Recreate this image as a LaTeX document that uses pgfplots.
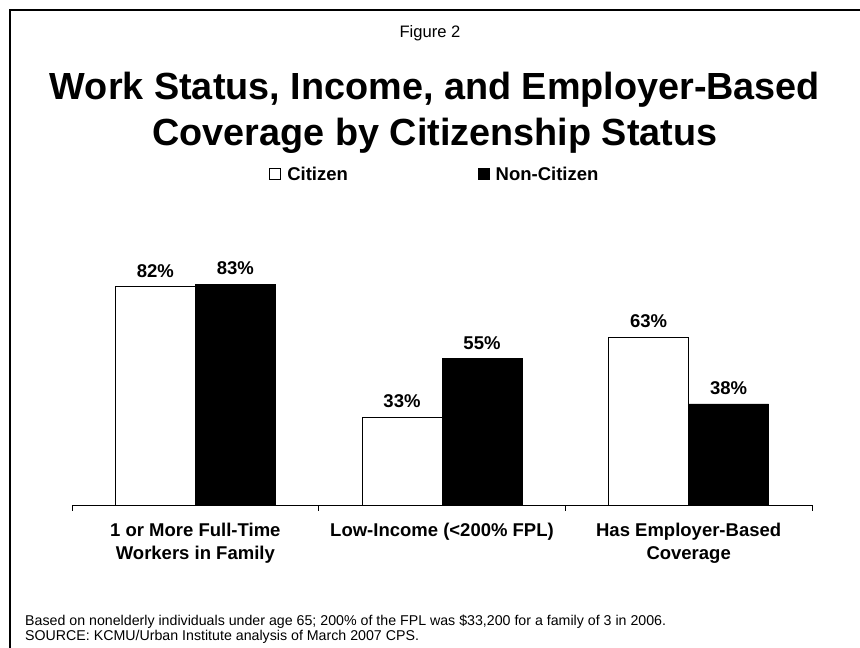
\documentclass[border=0pt]{standalone}
\usepackage{fontspec}
\setmainfont{Liberation Sans}
\usepackage{pgfplots}
\pgfplotsset{compat=1.18}
\begin{document}
\begin{tikzpicture}[x=1pt,y=1pt]
\path[use as bounding box] (0,0) rectangle (860,648);
\draw[line width=1.5pt] (10,0) -- (10,638) -- (860,638);
\node[font=\fontsize{16.6}{20}\selectfont] at (430,615) {Figure 2};
\node[font=\fontsize{37.8}{46}\selectfont\bfseries, align=center] at (435,535.5) {Work Status, Income, and Employer-Based\\Coverage by Citizenship Status};
\begin{axis}[
  at={(72pt,143pt)}, anchor=south west, scale only axis,
  width=740pt, height=266pt,
  xmin=-0.5, xmax=2.5, ymin=0, ymax=100,
  ybar=0pt, bar width=0.3243,
  axis x line=bottom, axis y line=none,
  axis line style={-, black, line width=0.8pt},
  xtick={0,1,2},
  xticklabels={{1 or More Full-Time\\Workers in Family},{Low-Income (<200\% FPL)},{Has Employer-Based\\Coverage}},
  xticklabel style={align=center, font=\fontsize{18.5}{23}\selectfont\bfseries, yshift=-15pt},
  major tick length=0pt,
  extra x ticks={-0.5,0.5,1.5,2.5},
  extra x tick labels={,,,},
  extra x tick style={major tick length=6pt, tick align=outside, tick style={black, line width=0.8pt}},
  /pgf/number format/assume math mode=true,
  nodes near coords={\pgfmathprintnumber{\pgfplotspointmeta}\%},
  nodes near coords style={font=\fontsize{18.5}{22}\selectfont\bfseries, inner sep=0pt, yshift=9pt},
  legend style={at={(0.4905,1.244)}, anchor=center, draw=none, legend columns=2,
    font=\fontsize{18.5}{22}\selectfont\bfseries,
    /tikz/every even column/.append style={column sep=128pt},
    /tikz/every odd column/.append style={column sep=4pt}},
  clip=false,
]
\addplot[fill=white, draw=black, line width=0.8pt,
  legend image code/.code={\draw[fill=white,draw=black,line width=0.8pt] (0pt,-5.5pt) rectangle (11pt,5.5pt);}]
  coordinates {(0,82) (1,33) (2,63)};
\addplot[fill=black, draw=black, line width=0.8pt,
  legend image code/.code={\draw[fill=black,draw=black,line width=0.8pt] (0pt,-5.5pt) rectangle (11pt,5.5pt);}]
  coordinates {(0,83) (1,55) (2,38)};
\legend{Citizen, Non-Citizen}
\end{axis}
\node[font=\fontsize{14.2}{16}\selectfont, anchor=base west, inner sep=0pt] at (25,22) {Based on nonelderly individuals under age 65; 200\% of the FPL was \$33,200 for a family of 3 in 2006.};
\node[font=\fontsize{14.2}{16}\selectfont, anchor=base west, inner sep=0pt] at (25,7) {SOURCE: KCMU/Urban Institute analysis of March 2007 CPS.};
\end{tikzpicture}
\end{document}
